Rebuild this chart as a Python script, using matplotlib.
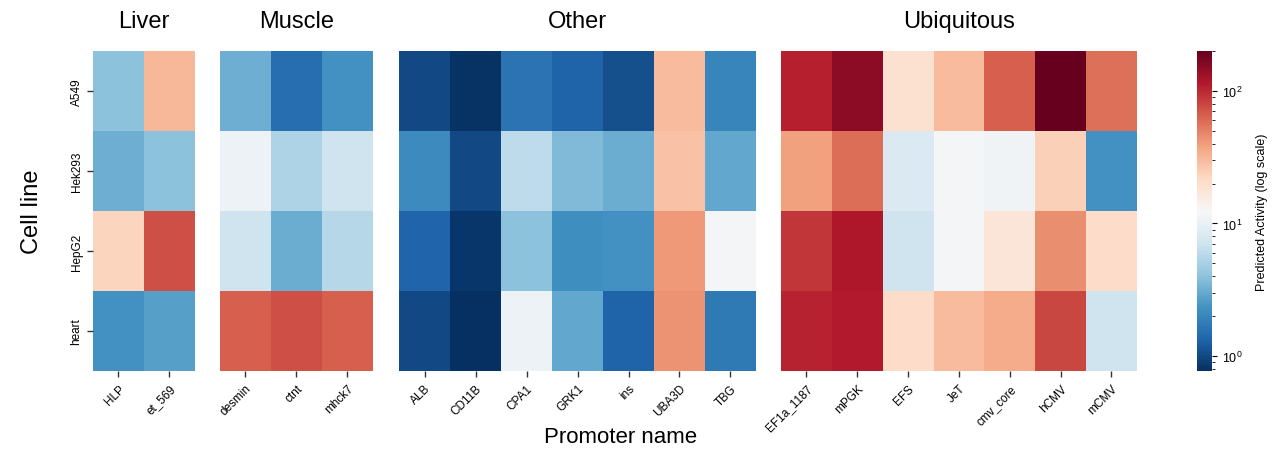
import matplotlib.pyplot as plt
import numpy as np
from matplotlib.colors import LogNorm

plt.rcParams['font.family'] = ['Liberation Sans', 'DejaVu Sans']

# Cell lines (rows) and promoter groups (columns)
cell_lines = ["A549", "Hek293", "HepG2", "heart"]
groups = ["Liver", "Muscle", "Other", "Ubiquitous"]

liver_promoters = ["HLP", "et_569"]
muscle_promoters = ["desmin", "ctnt", "mhck7"]
other_promoters = ["ALB", "CD11B", "CPA1", "GRK1", "ins", "UBA3D", "TBG"]
ubiq_promoters = ["EF1a_1187", "mPGK", "EFS", "JeT", "cmv_core", "hCMV", "mCMV"]

# Predicted activity, rows = cell lines, columns = promoters
liver_vals = [[4.0, 31],
              [3.2, 4.0],
              [23, 75],
              [2.3, 2.7]]
muscle_vals = [[3.2, 1.5, 2.3],
               [10.6, 5.3, 7.0],
               [7.0, 3.1, 5.6],
               [65, 75, 65]]
other_vals = [[1.0, 0.80, 1.6, 1.3, 1.08, 30, 2.0],
              [2.1, 1.0, 6.0, 3.6, 3.1, 28, 2.9],
              [1.34, 0.83, 4.0, 2.2, 2.3, 41, 11.8],
              [1.0, 0.77, 10.5, 2.9, 1.3, 43, 1.7]]
ubiq_vals = [[107, 150, 19.5, 30, 65, 196, 57],
             [39, 58, 8.2, 11.7, 11, 24, 2.3],
             [90, 117, 7.0, 11.7, 17.7, 45, 21],
             [105, 113, 21, 30, 35, 80, 7.0]]

panels = [
    (liver_promoters, liver_vals),
    (muscle_promoters, muscle_vals),
    (other_promoters, other_vals),
    (ubiq_promoters, ubiq_vals),
]

norm = LogNorm(vmin=0.77, vmax=200)
cmap = "RdBu_r"

fig = plt.figure(figsize=(12.74, 4.6), dpi=100)

# axes positions (left, width) in figure fraction
lefts = [0.073, 0.1727, 0.3132, 0.613]
widths = [0.080, 0.120, 0.2802, 0.2794]
bottom, height = 0.191, 0.696

for i, (name, (promoters, vals)) in enumerate(zip(groups, panels)):
    ax = fig.add_axes([lefts[i], bottom, widths[i], height])
    arr = np.array(vals, dtype=float)
    im = ax.pcolormesh(arr, cmap=cmap, norm=norm)
    ax.set_xlim(0, arr.shape[1])
    ax.set_ylim(arr.shape[0], 0)
    ax.set_xticks(np.arange(len(promoters)) + 0.5)
    ax.set_xticklabels(promoters, rotation=45, ha="right", rotation_mode="anchor", fontsize=8.5)
    ax.tick_params(axis="x", length=4, width=1, color="#333333", pad=4)
    if i == 0:
        ax.set_yticks(np.arange(len(cell_lines)) + 0.5)
        ax.set_yticklabels(cell_lines, rotation=90, va="center", fontsize=8.5)
        ax.tick_params(axis="y", length=4, width=1, color="#333333")
        ax.set_ylabel("Cell line", fontsize=17, labelpad=20)
    else:
        ax.set_yticks([])
    for s in ax.spines.values():
        s.set_visible(False)
    ax.set_title(name, fontsize=17, pad=17)

fig.text(0.487, 0.025, "Promoter name", ha="center", va="bottom", fontsize=16)

cax = fig.add_axes([0.9396, bottom, 0.0118, height])
cb = fig.colorbar(im, cax=cax)
cb.outline.set_visible(False)
cb.set_label("Predicted Activity (log scale)", fontsize=9, labelpad=10)
cb.ax.tick_params(labelsize=9)

fig.savefig("out.png", dpi=100)
